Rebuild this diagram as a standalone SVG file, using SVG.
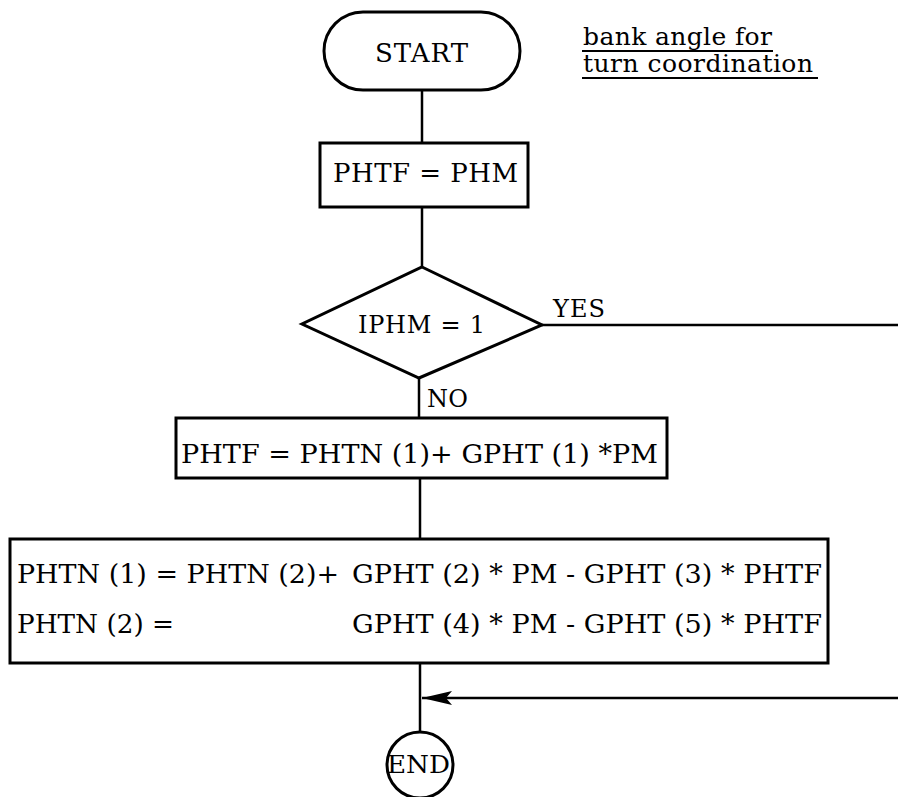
<svg xmlns="http://www.w3.org/2000/svg" width="898" height="797" viewBox="0 0 898 797">
<style>
.shape{fill:#fff;stroke:#000;stroke-width:3}
.con{fill:none;stroke:#000;stroke-width:2.5}
text{font-family:"DejaVu Serif","Liberation Serif",serif;fill:#000}
.t{font-size:26px}
.s{font-size:24px}
.u{stroke:#000;stroke-width:2}
</style>
<defs>
<marker id="arr" viewBox="0 0 30 14" refX="30" refY="7" markerUnits="userSpaceOnUse" markerWidth="30" markerHeight="14" orient="auto">
<path d="M30,7 L0,0 L6,7 L0,14 Z" fill="#000"/>
</marker>
</defs>
<g id="connectors">
<line class="con" x1="422" y1="90" x2="422" y2="143"/>
<line class="con" x1="422" y1="207" x2="422" y2="267"/>
<line class="con" x1="419" y1="378" x2="419" y2="418"/>
<line class="con" x1="420" y1="478" x2="420" y2="539"/>
<line class="con" x1="420" y1="663" x2="420" y2="732"/>
<line class="con" x1="542" y1="325" x2="898" y2="325"/>
<line class="con" x1="898" y1="698" x2="422" y2="698" marker-end="url(#arr)"/>
</g>
<g id="start">
<rect class="shape" x="324" y="12" width="196" height="78" rx="39" ry="39"/>
<text class="t" x="375" y="62" textLength="93" lengthAdjust="spacing">START</text>
</g>
<g id="note">
<text style="font-size:25px" x="583" y="45" textLength="189" lengthAdjust="spacing">bank angle for</text>
<line class="u" x1="582" y1="51" x2="773" y2="51"/>
<text style="font-size:25px" x="583" y="72" textLength="230" lengthAdjust="spacing">turn coordination</text>
<line class="u" x1="582" y1="78" x2="818" y2="78"/>
</g>
<g id="phtf-phm">
<rect class="shape" x="320" y="143" width="208" height="64"/>
<text class="t" x="333" y="182" textLength="185" lengthAdjust="spacing">PHTF = PHM</text>
</g>
<g id="decision">
<polygon class="shape" points="422,267 542,325 419,378 302,324"/>
<text class="s" x="358" y="333" textLength="127" lengthAdjust="spacing">IPHM = 1</text>
<text class="s" x="553" y="317" textLength="52" lengthAdjust="spacing">YES</text>
<text class="s" x="427" y="407" textLength="41" lengthAdjust="spacing">NO</text>
</g>
<g id="phtf-phtn">
<rect class="shape" x="176" y="418" width="491" height="60"/>
<text class="t" x="181" y="463" textLength="477" lengthAdjust="spacingAndGlyphs">PHTF = PHTN (1)+ GPHT (1) *PM</text>
</g>
<g id="phtn-update">
<rect class="shape" x="10" y="539" width="818" height="124"/>
<text class="t" x="17" y="583" textLength="322" lengthAdjust="spacingAndGlyphs">PHTN (1) = PHTN (2)+</text>
<text class="t" x="352" y="583" textLength="470" lengthAdjust="spacingAndGlyphs">GPHT (2) * PM - GPHT (3) * PHTF</text>
<text class="t" x="17" y="633" textLength="157" lengthAdjust="spacingAndGlyphs">PHTN (2) =</text>
<text class="t" x="352" y="633" textLength="470" lengthAdjust="spacingAndGlyphs">GPHT (4) * PM - GPHT (5) * PHTF</text>
</g>
<g id="end">
<circle class="shape" cx="420" cy="765" r="33"/>
<text style="font-size:24px" x="387" y="773" textLength="63" lengthAdjust="spacingAndGlyphs">END</text>
</g>
</svg>
